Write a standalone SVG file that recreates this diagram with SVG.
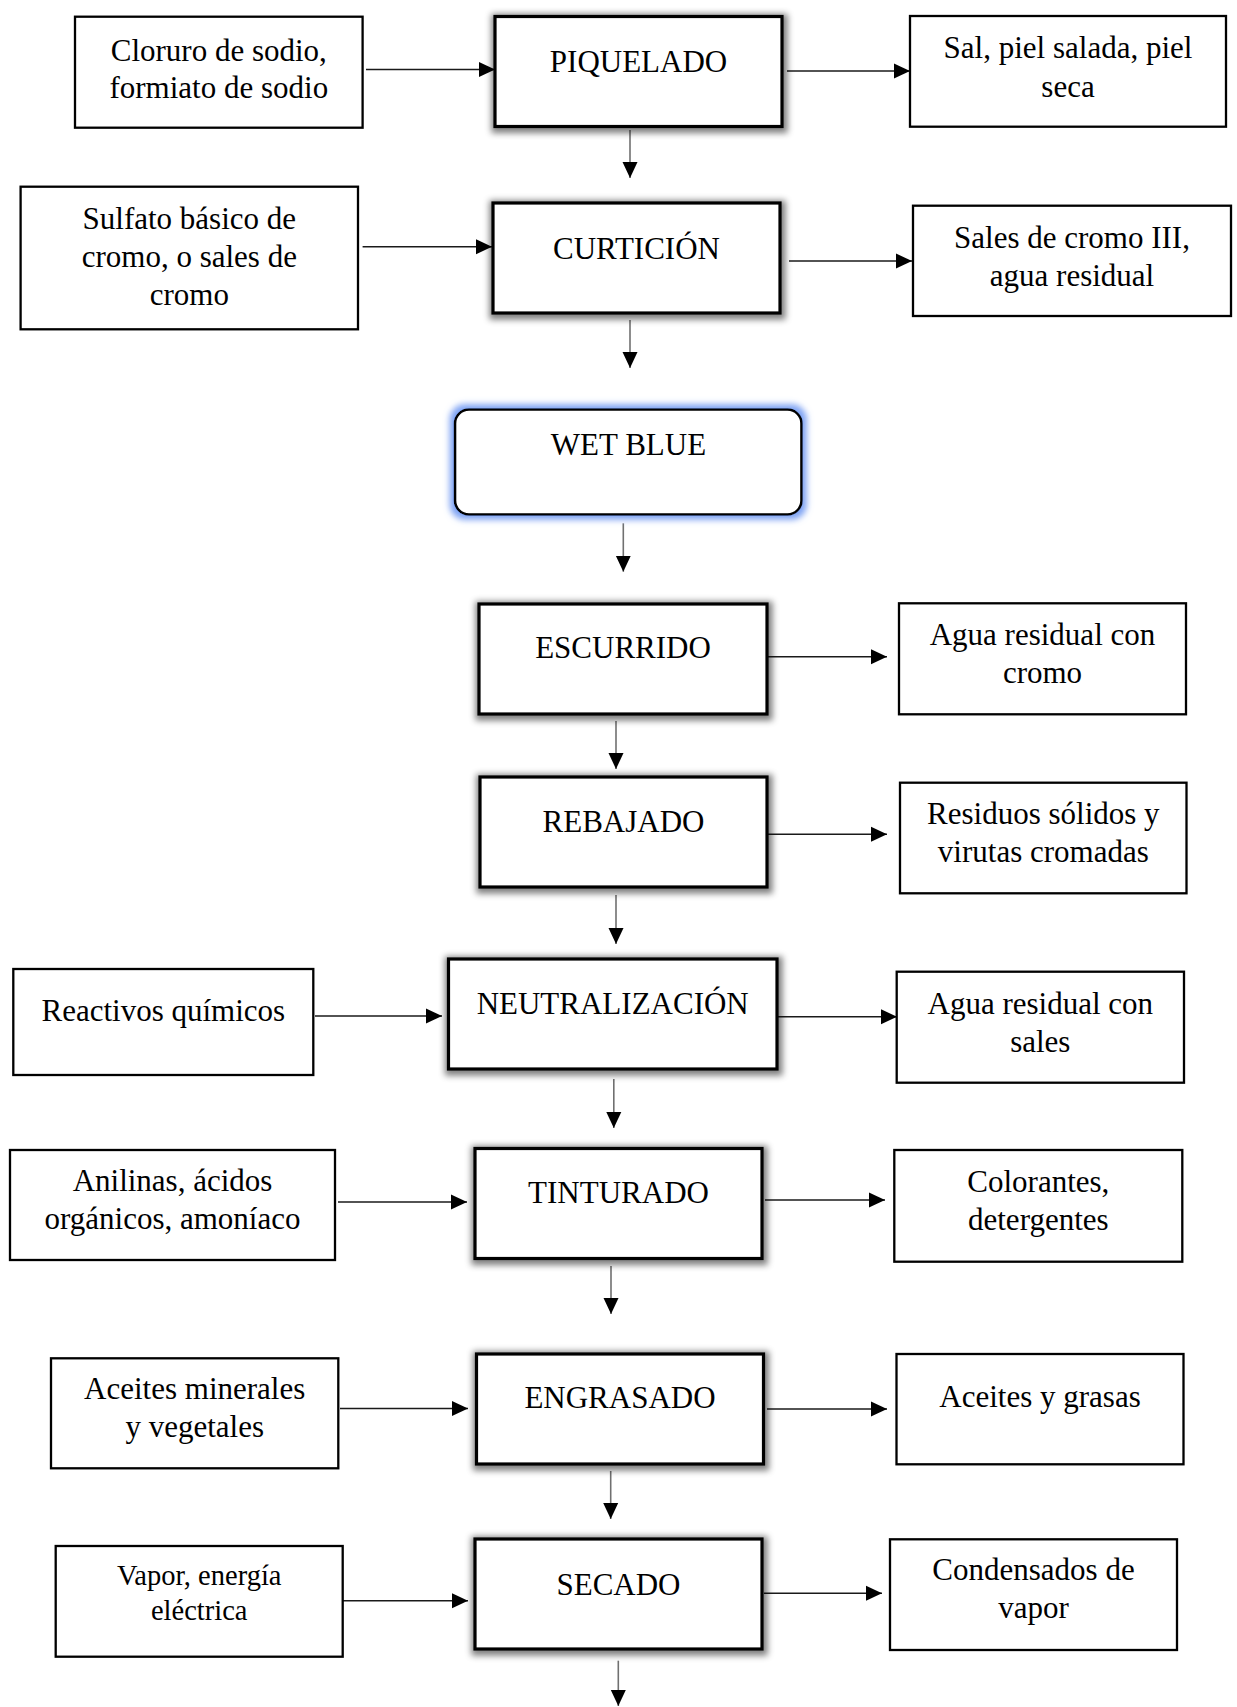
<svg xmlns="http://www.w3.org/2000/svg" width="1237" height="1707" viewBox="0 0 1237 1707">
<style>
  text { font-family: "Liberation Serif", "Times New Roman", serif; font-size: 31px; fill: #000; text-anchor: middle; }
  .side { fill: #fff; stroke: #000; stroke-width: 2.3; }
  .proc { fill: #fff; stroke: #000; stroke-width: 3.2; filter: url(#sh); }
  .wb { fill: #fff; stroke: #000; stroke-width: 2.6; filter: url(#glow); }
  .h { stroke: #1a1a1a; stroke-width: 1.6; fill: none; marker-end: url(#ah); }
  .v { stroke: #707070; stroke-width: 1.6; fill: none; marker-end: url(#ah); }
  .small { font-size: 28.5px; }
</style>
<defs>
  <marker id="ah" markerUnits="userSpaceOnUse" markerWidth="16" markerHeight="16" refX="16" refY="8" orient="auto">
    <path d="M0,0.5 L16,8 L0,15.5 z" fill="#000"/>
  </marker>
  <filter id="sh" x="-10%" y="-20%" width="120%" height="140%">
    <feMorphology in="SourceAlpha" operator="dilate" radius="3" result="d"/>
    <feGaussianBlur in="d" stdDeviation="3" result="b"/>
    <feOffset in="b" dx="0.5" dy="1.5" result="o"/>
    <feFlood flood-color="#000" flood-opacity="0.5"/>
    <feComposite in2="o" operator="in" result="s"/>
    <feMerge><feMergeNode in="s"/><feMergeNode in="SourceGraphic"/></feMerge>
  </filter>
  <filter id="glow" x="-10%" y="-20%" width="120%" height="140%">
    <feMorphology in="SourceAlpha" operator="dilate" radius="4" result="d"/>
    <feGaussianBlur in="d" stdDeviation="3" result="b"/>
    <feFlood flood-color="#6f98f2" flood-opacity="0.9"/>
    <feComposite in2="b" operator="in" result="s"/>
    <feMerge><feMergeNode in="s"/><feMergeNode in="SourceGraphic"/></feMerge>
  </filter>
</defs>

<g id="connectors">
  <line class="h" x1="366" y1="69.5" x2="495" y2="69.5"/>
  <line class="h" x1="787" y1="71" x2="910" y2="71"/>
  <line class="h" x1="362.6" y1="246.7" x2="492" y2="246.7"/>
  <line class="h" x1="789" y1="261" x2="912" y2="261"/>
  <line class="h" x1="768" y1="656.7" x2="887" y2="656.7"/>
  <line class="h" x1="768" y1="834.3" x2="887" y2="834.3"/>
  <line class="h" x1="315" y1="1016" x2="442" y2="1016"/>
  <line class="h" x1="778" y1="1016.7" x2="897" y2="1016.7"/>
  <line class="h" x1="338" y1="1202" x2="467" y2="1202"/>
  <line class="h" x1="765" y1="1200" x2="885" y2="1200"/>
  <line class="h" x1="340" y1="1408.5" x2="468" y2="1408.5"/>
  <line class="h" x1="767" y1="1409" x2="887" y2="1409"/>
  <line class="h" x1="340" y1="1600.7" x2="468" y2="1600.7"/>
  <line class="h" x1="764" y1="1593.3" x2="882" y2="1593.3"/>

  <line class="v" x1="630" y1="130" x2="630" y2="178"/>
  <line class="v" x1="630" y1="320" x2="630" y2="368"/>
  <line class="v" x1="623.3" y1="523.3" x2="623.3" y2="571.7"/>
  <line class="v" x1="616" y1="721" x2="616" y2="769"/>
  <line class="v" x1="616" y1="895" x2="616" y2="944"/>
  <line class="v" x1="613.8" y1="1079" x2="613.8" y2="1128"/>
  <line class="v" x1="611" y1="1266" x2="611" y2="1314"/>
  <line class="v" x1="610.7" y1="1471" x2="610.7" y2="1519"/>
  <line class="v" x1="618.3" y1="1660.7" x2="618.3" y2="1706"/>
</g>

<g id="piquelado"><rect class="proc" x="495" y="16.5" width="287" height="110"/><text x="638.5" y="72">PIQUELADO</text></g>
<g id="curticion"><rect class="proc" x="493" y="203" width="287" height="110"/><text x="636.5" y="258.5">CURTICIÓN</text></g>
<g id="wetblue"><rect class="wb" x="455" y="409.5" width="346.5" height="105" rx="14"/><text x="628.5" y="455">WET BLUE</text></g>
<g id="escurrido"><rect class="proc" x="479" y="604" width="288" height="110"/><text x="623" y="658.3">ESCURRIDO</text></g>
<g id="rebajado"><rect class="proc" x="480" y="777" width="287" height="110"/><text x="623.5" y="831.7">REBAJADO</text></g>
<g id="neutralizacion"><rect class="proc" x="448.5" y="959" width="328.5" height="110"/><text x="612.7" y="1014">NEUTRALIZACIÓN</text></g>
<g id="tinturado"><rect class="proc" x="475" y="1148.5" width="287" height="110"/><text x="618.5" y="1203">TINTURADO</text></g>
<g id="engrasado"><rect class="proc" x="476.5" y="1354" width="287" height="110"/><text x="620" y="1407.7">ENGRASADO</text></g>
<g id="secado"><rect class="proc" x="475" y="1539" width="287" height="110"/><text x="618.5" y="1595">SECADO</text></g>

<g id="cloruro"><rect class="side" x="75" y="16.7" width="287.6" height="111"/><text x="218.8" y="60.5">Cloruro de sodio,</text><text x="218.8" y="98">formiato de sodio</text></g>
<g id="sal"><rect class="side" x="910" y="16" width="316" height="110.7"/><text x="1068" y="58.3">Sal, piel salada, piel</text><text x="1068" y="96.5">seca</text></g>
<g id="sulfato"><rect class="side" x="20.6" y="186.7" width="337.4" height="142.6"/><text x="189.3" y="229">Sulfato básico de</text><text x="189.3" y="267">cromo, o sales de</text><text x="189.3" y="305">cromo</text></g>
<g id="salescromo"><rect class="side" x="913" y="205.7" width="318" height="110.3"/><text x="1072" y="248">Sales de cromo III,</text><text x="1072" y="286">agua residual</text></g>
<g id="aguacromo"><rect class="side" x="899" y="603.3" width="287" height="111"/><text x="1042.5" y="645">Agua residual con</text><text x="1042.5" y="683">cromo</text></g>
<g id="residuos"><rect class="side" x="900" y="782.7" width="286.5" height="110.6"/><text x="1043.3" y="823.5">Residuos sólidos y</text><text x="1043.3" y="862">virutas cromadas</text></g>
<g id="reactivos"><rect class="side" x="13.3" y="969" width="300" height="106"/><text x="163.3" y="1021">Reactivos químicos</text></g>
<g id="aguasales"><rect class="side" x="896.7" y="971.7" width="287.3" height="111"/><text x="1040.3" y="1014">Agua residual con</text><text x="1040.3" y="1051.5">sales</text></g>
<g id="anilinas"><rect class="side" x="10" y="1150" width="325" height="110"/><text x="172.5" y="1191">Anilinas, ácidos</text><text x="172.5" y="1229">orgánicos, amoníaco</text></g>
<g id="colorantes"><rect class="side" x="894.3" y="1150" width="288" height="111.7"/><text x="1038.3" y="1191.5">Colorantes,</text><text x="1038.3" y="1229.5">detergentes</text></g>
<g id="aceitesmin"><rect class="side" x="51" y="1358.3" width="287.3" height="110"/><text x="194.7" y="1399">Aceites minerales</text><text x="194.7" y="1437">y vegetales</text></g>
<g id="aceitesgrasas"><rect class="side" x="896.5" y="1354" width="287" height="110.3"/><text x="1040" y="1407">Aceites y grasas</text></g>
<g id="vapor"><rect class="side" x="55.7" y="1546" width="287" height="110.7"/><text class="small" x="199.2" y="1585">Vapor, energía</text><text class="small" x="199.2" y="1620">eléctrica</text></g>
<g id="condensados"><rect class="side" x="890" y="1539.3" width="287" height="110.7"/><text x="1033.5" y="1580">Condensados de</text><text x="1033.5" y="1618">vapor</text></g>
</svg>
